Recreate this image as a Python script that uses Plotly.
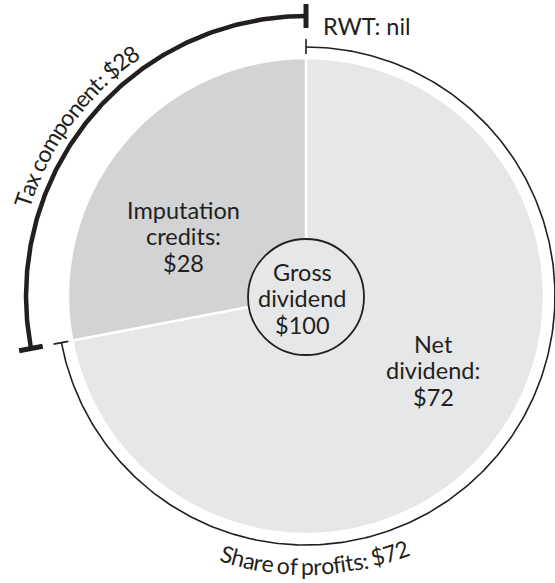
import math
import numpy as np
import plotly.graph_objects as go

# ---------------- data ----------------
components = ["Net dividend", "Imputation credits"]
amounts = [72, 28]
gross_label = ["Gross dividend"]
gross_amount = [100]
imputation_lines = ["Imputation", "credits:", "$28"]
net_lines = ["Net", "dividend:", "$72"]
gross_lines = ["Gross", "dividend", "$100"]
tax_label = "Tax component: $28"
share_label = "Share of profits: $72"
rwt_label = "RWT: nil"

# ---------------- style ----------------
W, H = 555, 583
CX, CY, R = 306, 296, 238          # pie centre / radius in px
INNER_R = 58
FONT = "Lato"
INK = "#231f20"
LIGHT = "#e6e7e8"
MID = "#d1d3d4"
FS = 23.5

def px_x(x):
    return x / W

def px_y(y):
    return 1 - y / H

fig = go.Figure()

# main pie
fig.add_trace(go.Pie(
    values=amounts, labels=components, sort=False, direction="clockwise",
    rotation=0, textinfo="none", hoverinfo="skip", showlegend=False,
    marker=dict(colors=[LIGHT, MID], line=dict(color="white", width=2.5)),
    domain=dict(x=[px_x(CX - R), px_x(CX + R)], y=[px_y(CY + R), px_y(CY - R)]),
))

# centre circle: gross dividend
ICY = CY + 1
fig.add_trace(go.Pie(
    values=gross_amount, labels=gross_label, sort=False, textinfo="none",
    hoverinfo="skip", showlegend=False,
    marker=dict(colors=[LIGHT], line=dict(color=INK, width=1.8)),
    domain=dict(x=[px_x(CX - INNER_R), px_x(CX + INNER_R)],
                y=[px_y(ICY + INNER_R), px_y(ICY - INNER_R)]),
))

# angular boundaries (clockwise from 12 o'clock, degrees) from the data
total = sum(amounts)
net_end = 360.0 * amounts[0] / total

def pt(theta_deg, r):
    t = math.radians(theta_deg)
    return CX + r * math.sin(t), CY - r * math.cos(t)

def arc(t0, t1, r, width):
    th = np.linspace(t0, t1, 300)
    xs = CX + r * np.sin(np.radians(th))
    ys = CY - r * np.cos(np.radians(th))
    fig.add_trace(go.Scatter(x=xs, y=ys, mode="lines", hoverinfo="skip",
                             showlegend=False, line=dict(color=INK, width=width)))

def cap(theta, r0, r1, width):
    x0, y0 = pt(theta, r0)
    x1, y1 = pt(theta, r1)
    fig.add_trace(go.Scatter(x=[x0, x1], y=[y0, y1], mode="lines", hoverinfo="skip",
                             showlegend=False, line=dict(color=INK, width=width)))

# share of profits (thin) arc around the net dividend slice
arc(0, net_end, 249, 1.6)
cap(0, 242, 257, 1.6)
cap(net_end, 242, 257, 1.6)

# tax component (thick) arc around the imputation slice
arc(net_end, 360, 280, 4.5)
cap(net_end, 268, 292, 5)
cap(360, 268, 292, 5)

annotations = []

def add_text(x, y, text, size=FS, xanchor="center", angle=0):
    annotations.append(dict(x=x, y=y, xref="x", yref="y", text=text, showarrow=False,
                            xanchor=xanchor, yanchor="middle", textangle=angle,
                            font=dict(family=FONT, size=size, color=INK)))

# multi-line labels (one line per annotation, baseline spacing ~26.5px)
def lines_at(x, first_baseline, lines, step=26.5):
    for i, ln in enumerate(lines):
        base = first_baseline + i * step
        add_text(x, base - 0.387 * FS, ln)

lines_at(183, 219, imputation_lines)
lines_at(302, 281, gross_lines)
lines_at(433, 353, net_lines)
add_text(321, 35 - 0.387 * FS, rwt_label, xanchor="left")

# curved text along arcs
WID = {' ': 0.193, 'a': 0.487, 'c': 0.462, 'e': 0.517, 'f': 0.33, 'h': 0.555,
       'i': 0.24, 'm': 0.84, 'n': 0.555, 'o': 0.56, 'p': 0.545, 'r': 0.37,
       's': 0.42, 't': 0.35, 'x': 0.49, 'T': 0.55, 'S': 0.49, ':': 0.24,
       '$': 0.58}

def curved(text, r, center_deg, size, spacing, outward_up=True):
    widths = [WID.get(c, 0.58) * spacing for c in text]
    total_w = sum(widths)
    s = -total_w / 2
    for c, w in zip(text, widths):
        mid = s + w / 2
        s += w
        if c == ' ':
            continue
        dtheta = math.degrees(mid / r)
        if outward_up:
            theta = center_deg + dtheta
            angle = theta
        else:
            theta = center_deg - dtheta
            angle = theta - 180
        x, y = pt(theta, r)
        t = "&#36;" if c == "$" else c
        add_text(x, y, t, size=size, angle=angle)

curved(tax_label, 299, -53.5, 23, 22.3, outward_up=True)
curved(share_label, 270, 178, 23, 21.8, outward_up=False)

fig.update_layout(
    width=W, height=H, autosize=False,
    margin=dict(l=0, r=0, t=0, b=0, pad=0),
    paper_bgcolor="white", plot_bgcolor="rgba(0,0,0,0)",
    xaxis=dict(range=[0, W], visible=False, domain=[0, 1], fixedrange=True),
    yaxis=dict(range=[H, 0], visible=False, domain=[0, 1], fixedrange=True),
    annotations=annotations,
    showlegend=False,
)

fig.write_html("out.html", config={"displayModeBar": False},
               post_script="document.body.style.margin='0px';")
